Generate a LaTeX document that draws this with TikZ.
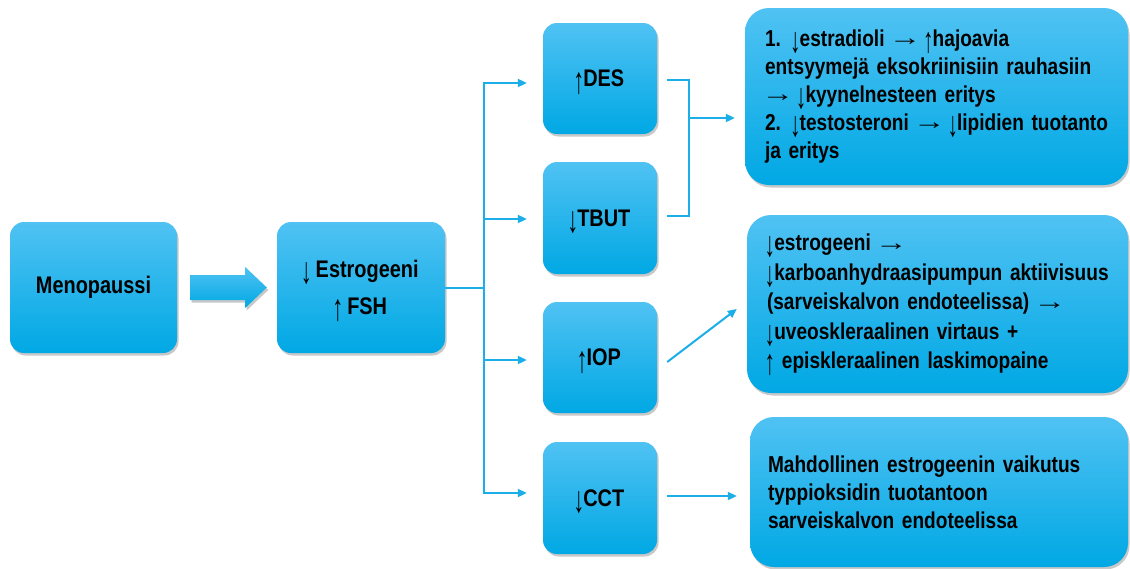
\documentclass[tikz,border=0pt]{standalone}
\usepackage{fontspec}
\usepackage{graphicx}
\setmainfont{Liberation Sans}[FakeStretch=0.83]
\usetikzlibrary{shadows,arrows.meta,calc}
\definecolor{boxtop}{RGB}{80,194,243}
\definecolor{boxbot}{RGB}{0,168,228}
\definecolor{linec}{RGB}{28,174,232}
\newcommand\da{\kern-0.1em\smash{\raisebox{-0.26em}{\scalebox{1.1}[1.55]{\mdseries ↓}}}\kern-0.04em}
\newcommand\ua{\kern-0.1em\smash{\raisebox{-0.26em}{\scalebox{1.1}[1.55]{\mdseries ↑}}}\kern-0.04em}
\newcommand\ra{\kern-0.15em\raisebox{0.02em}{\scalebox{1.7}[1]{\mdseries →}}\kern-0.15em}
\newcommand\smallfont{\fontsize{24}{28}\selectfont\bfseries\spaceskip 0.2em\relax}
\newcommand\bigfont{\fontsize{23}{28}\selectfont\bfseries\spaceskip 0.2em\relax}
\newcommand\bigfontb{\fontsize{23}{29.5}\selectfont\bfseries\spaceskip 0.2em\relax}
\tikzset{
  box/.style={rounded corners=14pt, top color=boxtop, bottom color=boxbot, draw=none,
    drop shadow={shadow xshift=1.5pt, shadow yshift=-2.5pt, opacity=.3, fill=black!70},
    font=\smallfont, align=center, inner sep=0pt, text=black},
  bigbox/.style={box, font=\bigfont, rounded corners=24pt,
    align=left, inner xsep=20pt, inner ysep=0pt},
  line/.style={draw=linec, line width=2pt},
  conn/.style={line, -{Triangle[length=9pt,width=8pt]}},
}
\begin{document}
\begin{tikzpicture}[x=1pt,y=-1pt]
\useasboundingbox (0,0) rectangle (1130,568);
\fill[white] (0,0) rectangle (1130,568);
% boxes
\node[box, minimum width=167pt, minimum height=131pt] (meno) at (93.5,287.5) {Menopaussi};
\node[box, minimum width=168pt, minimum height=131pt] (est) at (361,287.5) {\da\ Estrogeeni\\[9pt]\ua\ FSH};
\node[box, minimum width=114pt, minimum height=111pt] (des) at (600,78.5) {\ua DES};
\node[box, minimum width=114pt, minimum height=112pt] (tbut) at (600,218) {\da TBUT};
\node[box, minimum width=114pt, minimum height=111pt] (iop) at (600,357.5) {\ua IOP};
\node[box, minimum width=114pt, minimum height=112pt] (cct) at (600,498) {\da CCT};
\node[bigbox, text width=343pt, minimum width=383pt, minimum height=177pt] (b1) at (936.5,96.5)
  {\mbox{1. \da estradioli \ra\ \ua hajoavia}\\
   \mbox{entsyymejä eksokriinisiin rauhasiin}\\
   \mbox{\ra\ \da kyynelnesteen eritys}\\
   \mbox{2. \da testosteroni \ra\ \da lipidien tuotanto}\\
   \mbox{ja eritys}};
\node[bigbox, font=\bigfontb, text width=341pt, minimum width=381pt, minimum height=178pt] (b2) at (937.5,304)
  {\mbox{\da estrogeeni \ra}\\
   \mbox{\da karboanhydraasipumpun aktiivisuus}\\
   \mbox{(sarveiskalvon endoteelissa) \ra}\\
   \mbox{\da uveoskleraalinen virtaus +}\\
   \mbox{\ua\ episkleraalinen laskimopaine}};
\node[bigbox, inner xsep=18pt, text width=342pt, minimum width=378pt, minimum height=150pt] (b3) at (939,492)
  {\mbox{Mahdollinen estrogeenin vaikutus}\\
   \mbox{typpioksidin tuotantoon}\\
   \mbox{sarveiskalvon endoteelissa}};
% block arrow
\path[top color=boxtop, bottom color=boxbot,
      drop shadow={shadow xshift=1.5pt, shadow yshift=-2.5pt, opacity=.3, fill=black!70}]
  ($(meno.east)+(13,-12.5)$) -- ($(meno.east)+(68,-12.5)$) -- ($(meno.east)+(68,-20.5)$)
  -- ($(est.west)+(-10,0)$) -- ($(meno.east)+(68,20.5)$) -- ($(meno.east)+(68,12.5)$)
  -- ($(meno.east)+(13,12.5)$) -- cycle;
% connectors
\coordinate (trunk) at ($(est.east)+(39,0)$);
\draw[line] (est.east) -- (trunk);
\draw[conn, shorten >=16pt] (trunk) |- ($(des.west)+(0,4.5)$);
\draw[conn, shorten >=16pt] (trunk) |- ($(tbut.west)+(0,1)$);
\draw[conn, shorten >=16pt] (trunk) |- ($(iop.west)+(0,2.5)$);
\draw[conn, shorten >=16pt] (trunk) |- ($(cct.west)+(0,-5)$);
\draw[line] ($(des.east)+(10,1.5)$) -| ($(tbut.east)+(32,-2)$) -- ($(tbut.east)+(10,-2)$);
\coordinate (j) at ($(des.east)+(32,39.5)$);
\draw[conn, shorten >=10pt] (j) -- (j -| b1.west);
\draw[conn] ($(iop.east)+(10,4.5)$) -- ($(b2.west)+(-10,5)$);
\draw[conn, shorten >=13pt] ($(cct.east)+(10,-2)$) -- ($(cct.east -| b3.west)+(0,-2)$);
\end{tikzpicture}
\end{document}
